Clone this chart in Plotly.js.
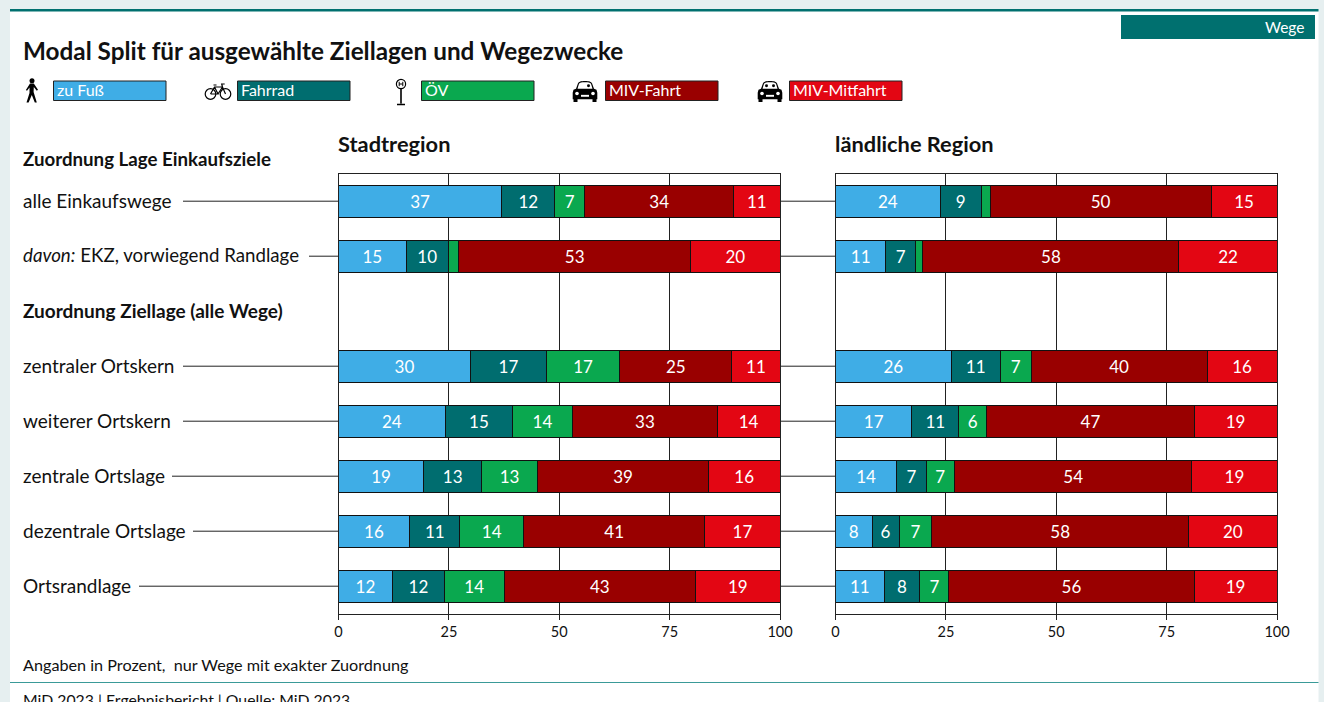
<!DOCTYPE html>
<html><head><meta charset="utf-8">
<script src="https://cdn.plot.ly/plotly-3.0.1.min.js"></script>
<style>html,body{margin:0;padding:0;background:#e6eff0;overflow:hidden}#c{width:1324px;height:702px}</style>
</head><body><div id="c"></div>
<script>
const rowKeys = ['alle Einkaufswege','EKZ','Zuordnung Ziellage','zentraler Ortskern','weiterer Ortskern','zentrale Ortslage','dezentrale Ortslage','Ortsrandlage'];
const rowLabels = ['alle Einkaufswege','<i>davon:</i> EKZ, vorwiegend Randlage','<b>Zuordnung Ziellage (alle Wege)</b>','zentraler Ortskern','weiterer Ortskern','zentrale Ortslage','dezentrale Ortslage','Ortsrandlage'];
const modes = ['zu Fuß','Fahrrad','ÖV','MIV-Fahrt','MIV-Mitfahrt'];
const colors = ['#3fade6','#006d6f','#0aa84f','#990000','#e30613'];

const stadtFuss    = [37.0,15.3,null,29.9,24.2,19.3,16.1,12.2];
const stadtRad     = [12.0, 9.6,null,17.2,15.2,13.1,11.4,11.8];
const stadtOev     = [ 6.8, 2.3,null,16.6,13.6,12.7,14.4,13.5];
const stadtFahrt   = [33.7,52.6,null,25.4,32.8,38.7,41.1,43.4];
const stadtMitfahrt= [10.5,20.2,null,10.9,14.2,16.2,17.0,19.1];

const landFuss     = [23.7,11.4,null,26.2,17.3,13.9, 8.3,11.0];
const landRad      = [ 9.3, 6.8,null,11.1,10.6, 6.6, 6.1, 8.1];
const landOev      = [ 2.0, 1.6,null, 7.0, 6.4, 6.5, 7.4, 6.6];
const landFahrt    = [50.1,58.0,null,39.9,46.9,53.7,58.2,55.5];
const landMitfahrt = [14.9,22.2,null,15.8,18.8,19.3,20.0,18.8];

const W=1324,H=702;
const FONT='Lato, "Open Sans", sans-serif';
const px=x=>x/W, py=y=>1-y/H;

function stackTraces(series,xa,ya){
  return series.map((v,i)=>({
    type:'bar',orientation:'h',name:modes[i],x:v,y:rowKeys,xaxis:xa,yaxis:ya,
    marker:{color:colors[i],line:{color:'#111',width:1}},
    text:v.map(d=>(d===null||d<4)?'':String(Math.round(d))),
    textposition:'inside',insidetextanchor:'middle',textangle:0,constraintext:'none',
    textfont:{family:FONT,size:17,color:'#fff'},hoverinfo:'x+name',showlegend:false
  }));
}
const data=[...stackTraces([stadtFuss,stadtRad,stadtOev,stadtFahrt,stadtMitfahrt],'x','y'),
            ...stackTraces([landFuss,landRad,landOev,landFahrt,landMitfahrt],'x2','y2')];

const note=(text,x,y,size,color,extra)=>Object.assign({text,x:px(x),y:py(y),xref:'paper',yref:'paper',xanchor:'left',yanchor:'middle',
  showarrow:false,borderpad:0,font:{family:FONT,size,color:color||'#111'}},extra||{});

const annotations=[
  note('<b>Modal Split für ausgewählte Ziellagen und Wegezwecke</b>',22,51,24.3),
  note('Wege',1305,27,15.5,'#fff',{xanchor:'right'}),
  note('<b>Stadtregion</b>',337,144,21.8),
  note('<b>ländliche Region</b>',834,144,21.8),
  note('<b>Zuordnung Lage Einkaufsziele</b>',22,159.5,18.7),
  note('Angaben in Prozent,  nur Wege mit exakter Zuordnung',22,664,16.2),
  note('MiD 2023 | Ergebnisbericht | Quelle: MiD 2023',22,699,15.8)
];
const rowFont=[19,18.7,19,19,19,19,19,19];
rowLabels.forEach((t,i)=>annotations.push({text:t,x:px(22),y:rowKeys[i],xref:'paper',yref:'y',xanchor:'left',yanchor:'middle',yshift:1,
  showarrow:false,borderpad:0,font:{family:FONT,size:rowFont[i],color:'#111'}}));

const shapes=[
  {type:'rect',xref:'paper',yref:'paper',x0:px(10),x1:px(1318.5),y0:py(702),y1:py(11),fillcolor:'#fff',line:{width:0},layer:'below'},
  {type:'rect',xref:'paper',yref:'paper',x0:px(10),x1:px(1318.5),y0:py(11.5),y1:py(9),fillcolor:'#00706f',line:{width:0},layer:'below'},
  {type:'rect',xref:'paper',yref:'paper',x0:px(1121),x1:px(1315),y0:py(39),y1:py(15),fillcolor:'#00706f',line:{width:0},layer:'below'},
  {type:'line',xref:'paper',yref:'paper',x0:px(10),x1:px(1318.5),y0:py(682.5),y1:py(682.5),line:{color:'#3a9a98',width:1},layer:'below'}
];
const leftStart=[183,309,null,183,183,172,193,139];
rowKeys.forEach((k,i)=>{
  if(leftStart[i]===null) return;
  shapes.push({type:'line',xref:'paper',yref:'y',x0:px(leftStart[i]),x1:px(338.5),y0:k,y1:k,line:{color:'#222',width:1},layer:'below'});
  shapes.push({type:'line',xref:'paper',yref:'y',x0:px(780),x1:px(835.5),y0:k,y1:k,line:{color:'#222',width:1},layer:'below'});
});
const legendX=[53,237,421,605,789];
modes.forEach((m,i)=>{
  shapes.push({type:'rect',xref:'paper',yref:'paper',x0:px(legendX[i]+.5),x1:px(legendX[i]+113),y0:py(100.5),y1:py(81),fillcolor:colors[i],line:{color:'#222',width:1}});
  annotations.push(note(m,legendX[i]+3,90,16,'#fff'));
});

const svg=(w,h,body)=>'data:image/svg+xml;utf8,'+encodeURIComponent(`<svg xmlns="http://www.w3.org/2000/svg" width="${w}" height="${h}" viewBox="0 0 ${w} ${h}">${body}</svg>`);
const walker=svg(16,26,'<circle cx="8" cy="2.7" r="2.5" fill="#000"/><path d="M6 5.5h3.8l4.200 6.300-1.200.9-3-3.700-.2 5 3.200 10.500h-2L7.800 17l-3.200 7.500H2.500l3-9.500V9.500L3 12.800l-1.100-.8z" fill="#000"/>');
const bike=svg(28,20,'<g fill="none" stroke="#000" stroke-width="1.2"><circle cx="6.5" cy="13" r="5.3"/><circle cx="21.5" cy="13" r="5.3"/><path d="M6.5 13 10.5 6h8L21.5 13M10.5 6 14 13H6.5M14 13 18.5 6M9.5 4h3M18.5 6l-.8-3h3"/></g>');
const stopSign=svg(14,28,'<g fill="none" stroke="#000" stroke-width="1.2"><circle cx="7" cy="6" r="4.6"/><path d="M7 10.6V25.5M3 26.5h8" stroke-width="1.6"/><path d="M5.2 3.8v4.4M8.8 3.8v4.4M5.2 6h3.6" stroke-width="1"/></g>');
const car=(front)=>svg(26,24,'<path d="M6 3.5C7 1.8 8.5 1 13 1s6 .8 7 2.5L22 9l2.500 1.300.8 3V20h-.8v3h-4v-3H5.500v3h-4v-3H.7v-6.700l.8-3L4 9z" fill="#000"/><path d="M7 4C8 2.600 9.500 2.400 13 2.400s5 .2 6 1.600l1.500 5H5.500z" fill="#fff"/>'+(front?'<circle cx="9.5" cy="6" r="1.5" fill="#000"/><circle cx="16.5" cy="6" r="1.5" fill="#000"/>':'<circle cx="16.5" cy="6" r="1.5" fill="#000"/>')+'<circle cx="5" cy="14" r="1.8" fill="#fff"/><circle cx="21" cy="14" r="1.8" fill="#fff"/><rect x="9" y="15.5" width="8" height="2" fill="#fff"/>');
const img=(source,x,y,w,h)=>({source,xref:'paper',yref:'paper',x:px(x),y:py(y),sizex:w/W,sizey:h/H,xanchor:'left',yanchor:'top',sizing:'stretch',layer:'above'});
const images=[img(walker,24,78,16,26),img(bike,204,81,28,20),img(stopSign,394,78,14,28),img(car(false),572,80,26,23),img(car(true),757,80,26,23)];

const xBase=(dom,anchor)=>({domain:dom,range:[0,100],anchor,tickmode:'array',tickvals:[0,25,50,75,100],ticks:'outside',ticklen:5,tickwidth:1,tickcolor:'#222',
  showgrid:true,gridcolor:'#222',gridwidth:1,zeroline:false,showline:true,linecolor:'#222',linewidth:1,mirror:true,tickfont:{family:FONT,size:14.5,color:'#111'},fixedrange:true});
const yBase=(anchor)=>({domain:[py(613.7),py(173.7)],type:'category',categoryorder:'array',categoryarray:rowKeys,autorange:false,range:[7.5,-0.5],anchor,
  showticklabels:false,ticks:'',showgrid:false,zeroline:false,showline:true,linecolor:'#222',linewidth:1,mirror:true,fixedrange:true});

const layout={width:W,height:H,autosize:false,margin:{l:0,r:0,t:0,b:0},paper_bgcolor:'#e6eff0',plot_bgcolor:'#fff',
  barmode:'stack',bargap:1-32/55,showlegend:false,font:{family:FONT},
  xaxis:xBase([px(338.5),px(780)],'y'),yaxis:yBase('x'),
  xaxis2:xBase([px(835.5),px(1277)],'y2'),yaxis2:yBase('x2'),
  annotations,shapes,images};
Plotly.newPlot('c',data,layout,{displayModeBar:false,staticPlot:false});
</script></body></html>
